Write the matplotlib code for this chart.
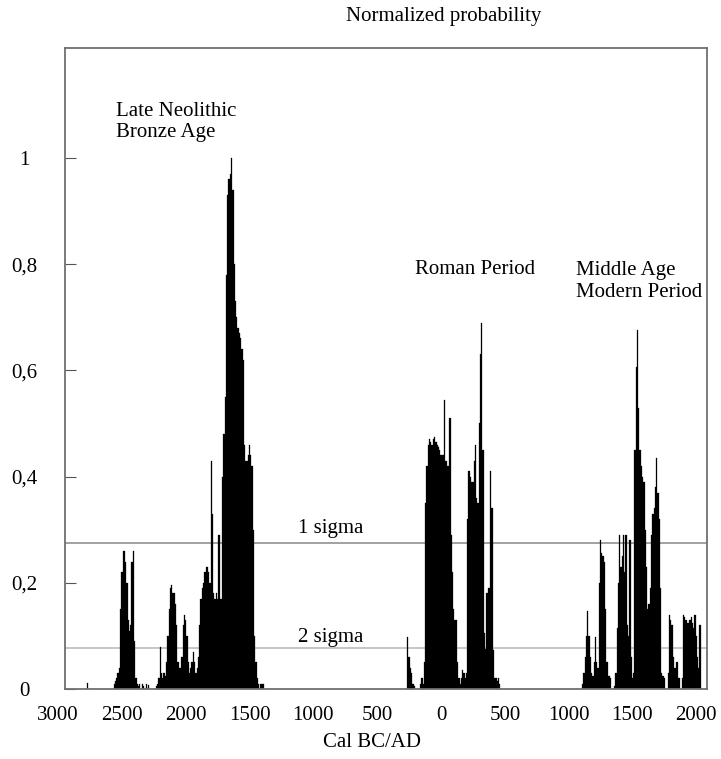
import numpy as np
import matplotlib
matplotlib.use("Agg")
import matplotlib.pyplot as plt
from matplotlib.ticker import FuncFormatter

plt.rcParams['font.family'] = ['Liberation Serif', 'DejaVu Serif']

# probability values, one per 10-year bin (negative years = BC)
step = 10

isolated_years = [-2770]
isolated_vals = [0.012]

neo_start = -2560
neo_vals = [0.01, 0.015, 0.02, 0.03, 0.04, 0.15, 0.22, 0.26, 0.26, 0.24,
            0.20, 0.13, 0.11, 0.12, 0.24, 0.26, 0.09, 0.02, 0.01, 0.005,
            0.01, 0.0, 0.01, 0.005, 0.0, 0.01, 0.0, 0.008]

bronze_start = -2230
bronze_vals = [0.005, 0.01, 0.02, 0.08, 0.03, 0.02, 0.03, 0.025, 0.05, 0.10,
               0.15, 0.19, 0.195, 0.18, 0.18, 0.16, 0.12, 0.05, 0.04, 0.04,
               0.06, 0.12, 0.14, 0.13, 0.10, 0.05, 0.03, 0.04, 0.05, 0.07,
               0.05, 0.03, 0.04, 0.06, 0.12, 0.17, 0.19, 0.20, 0.22, 0.23,
               0.23, 0.22, 0.20, 0.43, 0.33, 0.18, 0.17, 0.18, 0.17, 0.29,
               0.17, 0.17, 0.40, 0.48, 0.55, 0.78, 0.93, 0.96, 0.97, 1.0,
               0.94, 0.80, 0.73, 0.70, 0.68, 0.67, 0.66, 0.64, 0.62, 0.46,
               0.43, 0.43, 0.44, 0.46, 0.44, 0.42, 0.30, 0.10, 0.05, 0.02,
               0.01, 0.0, 0.01, 0.01, 0.01]

roman_start = -260
roman_vals = [0.098, 0.06, 0.04, 0.03, 0.01, 0.005, 0.0, 0.0, 0.0, 0.0,
              0.01, 0.02, 0.01, 0.05, 0.35, 0.42, 0.46, 0.47, 0.465, 0.46,
              0.47, 0.475, 0.465, 0.46, 0.455, 0.45, 0.44, 0.44, 0.44, 0.545,
              0.43, 0.42, 0.42, 0.51, 0.29, 0.22, 0.15, 0.13, 0.13, 0.05,
              0.02, 0.01, 0.02, 0.036, 0.03, 0.02, 0.03, 0.32, 0.41, 0.40,
              0.39, 0.39, 0.43, 0.46, 0.36, 0.35, 0.50, 0.63, 0.69, 0.45,
              0.105, 0.075, 0.18, 0.19, 0.19, 0.41, 0.34, 0.073, 0.02, 0.02,
              0.015, 0.02, 0.01]

medieval_start = 1110
medieval_vals = [0.01, 0.03, 0.06, 0.10, 0.146, 0.10, 0.06, 0.03, 0.025, 0.05,
                 0.098, 0.05, 0.04, 0.20, 0.28, 0.256, 0.25, 0.24, 0.15, 0.05,
                 0.025, 0.025, 0.02, 0.0, 0.0, 0.005, 0.03, 0.115, 0.20, 0.29,
                 0.23, 0.25, 0.29, 0.22, 0.29, 0.12, 0.10, 0.28, 0.06, 0.02,
                 0.03, 0.45, 0.607, 0.676, 0.53, 0.45, 0.42, 0.40, 0.39, 0.30,
                 0.23, 0.15, 0.16, 0.19, 0.29, 0.33, 0.34, 0.38, 0.435, 0.37,
                 0.32, 0.19, 0.03, 0.025, 0.02, 0.0, 0.0, 0.03, 0.14, 0.13,
                 0.12, 0.06, 0.04, 0.04, 0.05, 0.02, 0.02, 0.0, 0.02, 0.14,
                 0.135, 0.13, 0.125, 0.125, 0.13, 0.136, 0.125, 0.115, 0.14, 0.10,
                 0.06, 0.04, 0.12]

sigma1 = 0.275
sigma2 = 0.077

xticks = [-2500, -2000, -1500, -1000, -500, 0, 500, 1000, 1500, 2000]
yticks = [0, 0.2, 0.4, 0.6, 0.8, 1.0]
ytick_labels = ["0", "0,2", "0,4", "0,6", "0,8", "1"]

fig = plt.figure(figsize=(7.21, 7.59), dpi=100)
ax = fig.add_axes([65 / 721, 1 - 689 / 759, 642 / 721, 641 / 759])

ax.bar(isolated_years, isolated_vals, width=step, color='black',
       edgecolor='black', linewidth=0.2)
for start, vals in [(neo_start, neo_vals), (bronze_start, bronze_vals),
                    (roman_start, roman_vals), (medieval_start, medieval_vals)]:
    yrs = start + step * np.arange(len(vals))
    ax.bar(yrs, vals, width=step, color='black', edgecolor='black', linewidth=0.2)

ax.axhline(sigma1, color='#9a9a9a', lw=1.3, zorder=0)
ax.axhline(sigma2, color='#c0c0c0', lw=1.3, zorder=0)

ax.set_xlim(-2946, 2084)
ax.set_ylim(0, 1.207)

for s in ax.spines.values():
    s.set_color('#707070')
    s.set_linewidth(1.3)

ax.set_xticks(xticks)
ax.xaxis.set_major_formatter(FuncFormatter(lambda v, p: "%d" % abs(v)))
ax.tick_params(axis='x', length=0, pad=12, labelsize=15)
ax.text(-3000, -17 / 641, "3000", transform=ax.get_xaxis_transform(),
        ha='center', va='top', fontsize=15)

ax.set_yticks(yticks)
ax.set_yticklabels(ytick_labels)
ax.tick_params(axis='y', direction='in', length=8, width=0.8,
               color='#555555', pad=29, labelsize=15)
for lab in ax.get_yticklabels():
    lab.set_horizontalalignment('center')

ax.set_xlabel("Cal BC/AD", fontsize=15)
ax.xaxis.set_label_coords(0.478, -44 / 641)

fig.text(444 / 721, 1 - 17 / 759, "Normalized probability", fontsize=15,
         ha='center', va='center')

ax.text(0.079, 0.885, "Late Neolithic\nBronze Age", transform=ax.transAxes,
        fontsize=15, ha='left', va='center', linespacing=1.15)
ax.text(0.545, 0.655, "Roman Period", transform=ax.transAxes,
        fontsize=15, ha='left', va='center')
ax.text(0.796, 0.636, "Middle Age\nModern Period", transform=ax.transAxes,
        fontsize=15, ha='left', va='center', linespacing=1.25)
ax.text(0.363, 0.251, "1 sigma", transform=ax.transAxes,
        fontsize=15, ha='left', va='center')
ax.text(0.363, 0.081, "2 sigma", transform=ax.transAxes,
        fontsize=15, ha='left', va='center')

fig.savefig("out.png", dpi=100)
